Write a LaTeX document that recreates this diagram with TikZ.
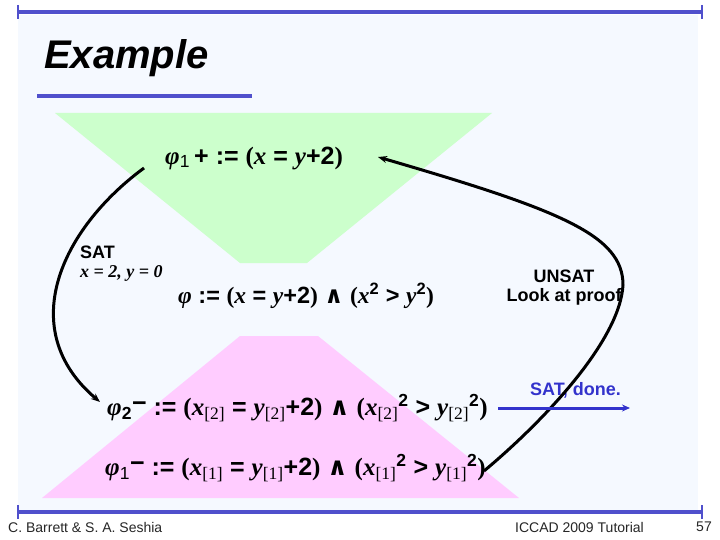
\documentclass[tikz,border=0pt]{standalone}
\usepackage{fontspec}
\setmainfont{Liberation Serif}
\setsansfont{Liberation Sans}
\newfontfamily\djv{DejaVu Sans}
\usetikzlibrary{arrows.meta}
\definecolor{panel}{RGB}{245,249,255}
\definecolor{lgreen}{RGB}{204,255,204}
\definecolor{lpink}{RGB}{255,204,255}
\definecolor{rulec}{RGB}{80,80,204}
\definecolor{satblue}{RGB}{51,51,204}
\newcommand\vv[1]{{\rmfamily\bfseries\itshape #1}}
\newcommand\ph{{\rmfamily\bfseries\itshape φ}}
\newcommand\lp{{\rmfamily\bfseries (}}
\newcommand\rp{{\rmfamily\bfseries )}}
\newcommand\andop{{\djv ∧}}
\newcommand\sbx[1]{\textsubscript{\rmfamily\mdseries #1}}
\tikzset{
  formula/.style={font=\fontsize{25}{29}\selectfont\sffamily\bfseries, inner sep=0pt, anchor=west},
  lbl/.style={font=\fontsize{18}{21}\selectfont\sffamily\bfseries, inner sep=0pt},
  foot/.style={font=\fontsize{14}{16}\selectfont\sffamily, inner sep=0pt, text=black!85},
  conn/.style={line width=3pt, -{Stealth[length=9pt,width=7pt]}},
  rulel/.style={draw=rulec, line width=3.5pt}
}
\begin{document}
\begin{tikzpicture}[x=1pt,y=-1pt]
\useasboundingbox (0,0) rectangle (720,540);
\fill[white] (0,0) rectangle (720,540);
\fill[panel] (18,15) rectangle (698,510);
% header and footer rules
\draw[rulel] (18,12) -- (702,12);
\draw[rulec, line width=2.5pt] (18,5) -- (18,19) (702,5) -- (702,19);
\draw[rulel] (18,512) -- (702,512);
\draw[rulec, line width=2.5pt] (18,505) -- (18,519) (702,505) -- (702,519);
% title
\node[font=\fontsize{40}{46}\selectfont\sffamily\bfseries\itshape, anchor=west, inner sep=0pt] (title) at (44,58) {Example};
\draw[rulel] (37,96) -- (252,96);
% trapezoids
\fill[lgreen] (55,113) -- (492,113) -- (307,263) -- (240,263) -- cycle;
\fill[lpink] (42,498) -- (519,498) -- (318,336) -- (240,336) -- cycle;
% formulas
\node[formula] (phip) at (165,158) {\ph\textsubscript{\sffamily\mdseries 1}\,+ := \lp\vv{x} = \vv{y}+2\rp};
\node[formula, font=\fontsize{23.5}{28}\selectfont\sffamily\bfseries] (phi) at (178,296) {\ph\ := \lp\vv{x} = \vv{y}+2\rp\ \andop\ \lp\vv{x}\textsuperscript{2} > \vv{y}\textsuperscript{2}\rp};
\node[formula] (phitwo) at (107,408) {\ph\textsubscript{\sffamily 2}\raisebox{0.3ex}{−} := \lp\vv{x}\sbx{[2]} = \vv{y}\sbx{[2]}+2\rp\ \andop\ \lp\vv{x}\sbx{[2]}\textsuperscript{2} > \vv{y}\sbx{[2]}\textsuperscript{2}\rp};
\node[formula] (phione) at (105,468) {\ph\textsubscript{\sffamily\mdseries 1}\raisebox{0.3ex}{−} := \lp\vv{x}\sbx{[1]} = \vv{y}\sbx{[1]}+2\rp\ \andop\ \lp\vv{x}\sbx{[1]}\textsuperscript{2} > \vv{y}\sbx{[1]}\textsuperscript{2}\rp};
% labels
\node[lbl, anchor=west] (sat) at (80,252) {SAT};
\node[font=\fontsize{18}{21}\selectfont\rmfamily\bfseries\itshape, anchor=west, inner sep=0pt] (model) at (80,273) {x = 2, y = 0};
\node[lbl] (unsat) at (564,276) {UNSAT};
\node[lbl] (look) at (564,297) {Look at proof};
\node[lbl, text=satblue, anchor=west] (done) at (530,390) {SAT, done.};
% connectors
\coordinate (l0) at (144,168);
\coordinate (l1) at (100,402);
\draw[conn] (l0) .. controls (60,230) and (15,330) .. (l1);
\coordinate (r0) at (484,471);
\coordinate (r1) at (623,285);
\coordinate (r2) at (378,157);
\draw[conn] (r0) .. controls (545,420) and (620,340) .. (r1) .. controls (623,235) and (560,210) .. (r2);
\coordinate (b0) at (498,408);
\coordinate (b1) at (630,408);
\draw[satblue, line width=3pt, -{Stealth[length=8pt,width=7pt]}] (b0) -- (b1);
% footer
\node[foot, anchor=west] (auth) at (8,527) {C. Barrett \& S. A. Seshia};
\node[foot, anchor=west] (conf) at (515,527) {ICCAD 2009 Tutorial};
\node[foot, anchor=east] (page) at (712,527) {57};
\end{tikzpicture}
\end{document}
